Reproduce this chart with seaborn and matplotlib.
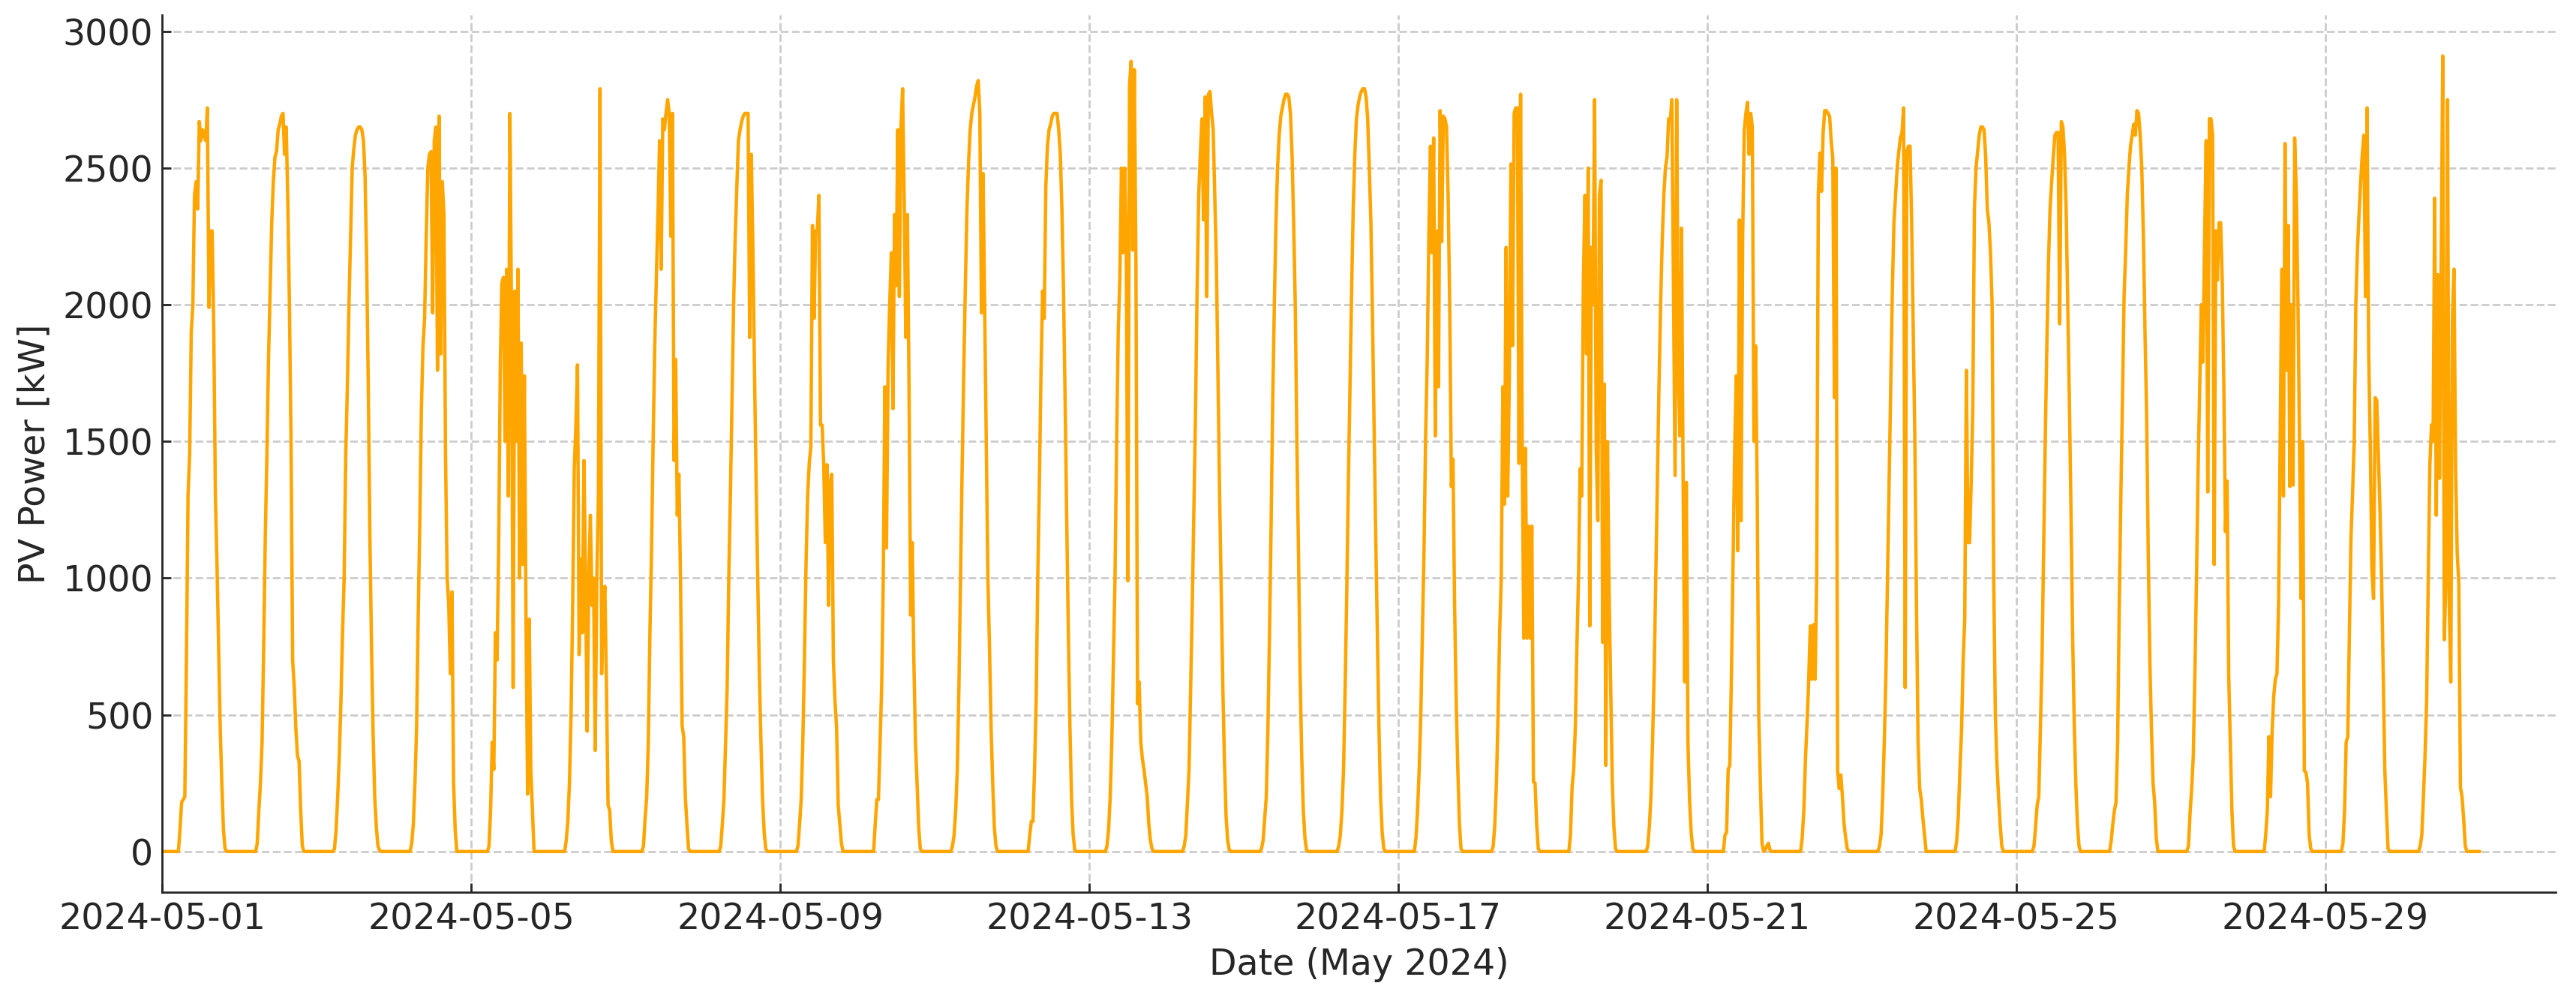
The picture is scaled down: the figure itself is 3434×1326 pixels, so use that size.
import numpy as np
import pandas as pd
import seaborn as sns
import matplotlib
matplotlib.use("Agg")
import matplotlib.pyplot as plt
import matplotlib.dates as mdates

# PV power [kW], half-hourly from 05:00 to 20:00 (31 values per day)
may01 = [0, 80, 180, 190, 200, 700, 1300, 1450, 1900, 2000, 2400, 2450, 2350, 2670, 2600, 2640,
         2620, 2600, 2720, 1990, 2270, 2270, 1900, 1300, 1050, 750, 450, 250, 80, 10, 0]
may02 = [0, 30, 150, 250, 400, 750, 1150, 1450, 1800, 2050, 2300, 2450, 2540, 2560, 2640, 2660,
         2690, 2700, 2550, 2650, 2380, 2000, 1500, 700, 600, 450, 350, 330, 150, 20, 0]
may03 = [0, 10, 80, 200, 350, 550, 800, 1000, 1450, 1700, 2000, 2250, 2500, 2570, 2620, 2640,
         2650, 2650, 2640, 2600, 2470, 2150, 1700, 1150, 750, 430, 200, 90, 20, 5, 0]
may04 = [0, 30, 100, 250, 450, 850, 1200, 1620, 1850, 1950, 2250, 2500, 2550, 2560, 1970, 2600,
         2650, 1760, 2690, 1820, 2450, 2330, 1450, 1000, 900, 650, 950, 250, 80, 0, 0]
may05 = [0, 20, 150, 400, 300, 800, 700, 1100, 1760, 2080, 2100, 1500, 2130, 1300, 2700, 1950,
         600, 2050, 1500, 2130, 1000, 1860, 1050, 1740, 850, 210, 850, 300, 150, 0, 0]
may06 = [0, 40, 110, 250, 500, 900, 1400, 1560, 1780, 720, 1070, 800, 1430, 1000, 440, 1000,
         1230, 900, 1000, 370, 1000, 1300, 2790, 650, 860, 970, 600, 170, 150, 40, 0]
may07 = [0, 20, 120, 200, 400, 800, 1100, 1500, 1850, 2100, 2330, 2600, 2130, 2680, 2640, 2700,
         2750, 2700, 2250, 2700, 1430, 1800, 1230, 1380, 1000, 460, 420, 200, 100, 10, 0]
may08 = [0, 20, 100, 190, 400, 600, 1000, 1300, 1650, 2000, 2250, 2430, 2600, 2640, 2670, 2690,
         2700, 2700, 2700, 1880, 2550, 2200, 1750, 1350, 1000, 650, 400, 190, 70, 10, 0]
may09 = [0, 20, 100, 190, 400, 700, 1050, 1300, 1420, 1480, 2290, 1950, 2270, 2270, 2400, 1560,
         1560, 1415, 1130, 1415, 900, 1350, 1380, 700, 550, 450, 170, 100, 30, 0, 0]
may10 = [0, 100, 190, 190, 400, 600, 1000, 1700, 1110, 1780, 2000, 2190, 1620, 2330, 2070, 2640,
         2030, 2650, 2790, 2380, 1880, 2330, 1700, 865, 1130, 700, 400, 250, 90, 10, 0]
may11 = [0, 20, 60, 150, 300, 600, 1000, 1400, 1750, 2070, 2350, 2520, 2640, 2700, 2730, 2760,
         2800, 2820, 2700, 1970, 2480, 2000, 1500, 1000, 750, 450, 250, 90, 20, 0, 0]
may12 = [0, 60, 110, 110, 300, 550, 1000, 1350, 1750, 2050, 1950, 2430, 2580, 2640, 2660, 2690,
         2700, 2700, 2700, 2640, 2550, 2350, 2050, 1650, 1210, 800, 450, 190, 60, 5, 0]
may13 = [0, 20, 80, 200, 400, 700, 1000, 1500, 1900, 2100, 2500, 2190, 2500, 2190, 990, 2800,
         2890, 2200, 2860, 2150, 540, 620, 400, 340, 300, 250, 200, 100, 40, 10, 0]
may14 = [0, 20, 60, 180, 300, 600, 900, 1250, 1600, 2050, 2400, 2550, 2680, 2310, 2760, 2030,
         2770, 2780, 2700, 2640, 2400, 2150, 1720, 1300, 950, 600, 330, 130, 40, 5, 0]
may15 = [0, 10, 40, 120, 200, 450, 800, 1200, 1650, 2000, 2300, 2500, 2620, 2690, 2720, 2750,
         2770, 2770, 2760, 2700, 2550, 2300, 2000, 1500, 1100, 650, 350, 150, 50, 5, 0]
may16 = [0, 20, 60, 150, 300, 600, 950, 1350, 1700, 2050, 2350, 2550, 2680, 2730, 2760, 2780,
         2790, 2790, 2760, 2680, 2500, 2300, 1950, 1550, 1150, 800, 450, 200, 70, 10, 0]
may17 = [0, 50, 150, 300, 500, 800, 1100, 1520, 1800, 2250, 2580, 2190, 2610, 1520, 2270, 1700,
         2710, 2230, 2690, 2680, 2650, 2390, 1985, 1335, 1435, 900, 550, 300, 100, 10, 0]
may18 = [0, 20, 100, 250, 500, 800, 1000, 1700, 1270, 2210, 1300, 1730, 2515, 1850, 2700, 2720,
         2720, 1420, 2770, 1475, 780, 1475, 780, 1190, 780, 1190, 255, 250, 100, 10, 0]
may19 = [0, 60, 235, 300, 450, 750, 1000, 1400, 1300, 2080, 2400, 1820, 2500, 825, 2210, 2000,
         2750, 1475, 1210, 2400, 2455, 765, 1710, 315, 1500, 950, 600, 250, 90, 10, 0]
may20 = [0, 20, 90, 200, 400, 650, 1000, 1350, 1700, 2000, 2230, 2400, 2500, 2540, 2680, 2670,
         2750, 2050, 1375, 2750, 1780, 1520, 2280, 1355, 620, 1350, 400, 190, 70, 10, 0]
may21 = [0, 60, 70, 300, 315, 640, 1040, 1455, 1740, 1100, 2310, 1210, 2250, 2640, 2700, 2740,
         2550, 2700, 2650, 1500, 1850, 1335, 500, 250, 30, 0, 5, 20, 30, 5, 0]
may22 = [0, 50, 150, 335, 470, 620, 825, 630, 830, 630, 1000, 2400, 2555, 2415, 2630, 2710,
         2710, 2700, 2690, 2600, 2535, 1660, 2500, 295, 230, 280, 200, 100, 50, 10, 0]
may23 = [0, 20, 60, 200, 400, 650, 1000, 1350, 1700, 2050, 2300, 2400, 2500, 2560, 2610, 2630,
         2720, 600, 2560, 2580, 2580, 2300, 1900, 1500, 900, 400, 230, 190, 120, 60, 0]
may24 = [0, 40, 130, 300, 440, 700, 850, 1760, 1130, 1130, 1350, 1620, 2350, 2500, 2560, 2620,
         2650, 2650, 2640, 2540, 2350, 2300, 2190, 2000, 1000, 500, 320, 200, 100, 20, 0]
may25 = [0, 20, 90, 170, 200, 450, 700, 1100, 1500, 1850, 2150, 2350, 2450, 2540, 2620, 2630,
         2630, 1930, 2670, 2650, 2550, 2350, 2000, 1650, 1250, 800, 480, 250, 100, 20, 0]
may26 = [0, 40, 100, 150, 180, 400, 900, 1300, 1650, 2030, 2200, 2400, 2500, 2580, 2620, 2660,
         2620, 2710, 2700, 2620, 2500, 2250, 1900, 1600, 1100, 700, 450, 250, 180, 50, 0]
may27 = [0, 20, 140, 230, 350, 650, 1000, 1400, 1700, 2000, 1790, 2230, 2600, 1315, 2680, 2680,
         2620, 1050, 2270, 2090, 2300, 2300, 2090, 1700, 1170, 1355, 650, 400, 150, 20, 0]
may28 = [0, 60, 150, 420, 200, 440, 570, 630, 650, 900, 1500, 2130, 1300, 2590, 1760, 2290,
         1335, 2000, 1340, 2610, 2410, 2030, 1500, 925, 1500, 295, 290, 250, 60, 10, 0]
may29 = [0, 30, 150, 400, 420, 800, 1150, 1315, 1500, 2000, 2200, 2330, 2450, 2550, 2620, 2030,
         2720, 1820, 1475, 1030, 925, 1660, 1650, 1450, 1250, 1000, 660, 300, 150, 10, 0]
may30 = [0, 20, 60, 200, 350, 550, 1000, 1415, 1560, 1500, 2390, 1230, 2110, 1365, 2110, 2910,
         775, 1000, 2750, 925, 620, 1945, 2130, 1400, 1090, 980, 235, 200, 120, 20, 0]

days = [may01, may02, may03, may04, may05, may06, may07, may08, may09, may10,
        may11, may12, may13, may14, may15, may16, may17, may18, may19, may20,
        may21, may22, may23, may24, may25, may26, may27, may28, may29, may30]

# night hours: nothing produced (00:00-04:30 and 20:30-23:30)
night_am = [0] * 10
night_pm = [0] * 7

power = []
for d in days:
    power += night_am + d + night_pm
power.append(0)  # 2024-05-31 00:00

times = pd.date_range("2024-05-01 00:00", periods=len(power), freq="30min")
df = pd.DataFrame({"Date": times, "PV Power": power})

sns.set_style("ticks")
plt.rcParams["font.family"] = ["DejaVu Sans"]

fig, ax = plt.subplots(figsize=(13.736, 5.304), dpi=250)
fig.subplots_adjust(left=0.063, right=0.992, bottom=0.103, top=0.985)

sns.lineplot(data=df, x="Date", y="PV Power", color="orange", linewidth=1.3, ax=ax)

ax.set_xlim(pd.Timestamp("2024-05-01"), pd.Timestamp("2024-05-31 23:30"))
ax.set_ylim(-150, 3060)
ax.set_yticks(np.arange(0, 3001, 500))
ax.xaxis.set_major_locator(mdates.DayLocator(bymonthday=[1, 5, 9, 13, 17, 21, 25, 29]))
ax.xaxis.set_major_formatter(mdates.DateFormatter("%Y-%m-%d"))

ax.grid(True, linestyle="--", linewidth=0.8, color="#cccccc")
ax.tick_params(direction="in", labelsize=13.7)
ax.set_xlabel("Date (May 2024)", fontsize=13.7)
ax.set_ylabel("PV Power [kW]", fontsize=13.7)
sns.despine(ax=ax)

fig.savefig("out.png", dpi=250)
